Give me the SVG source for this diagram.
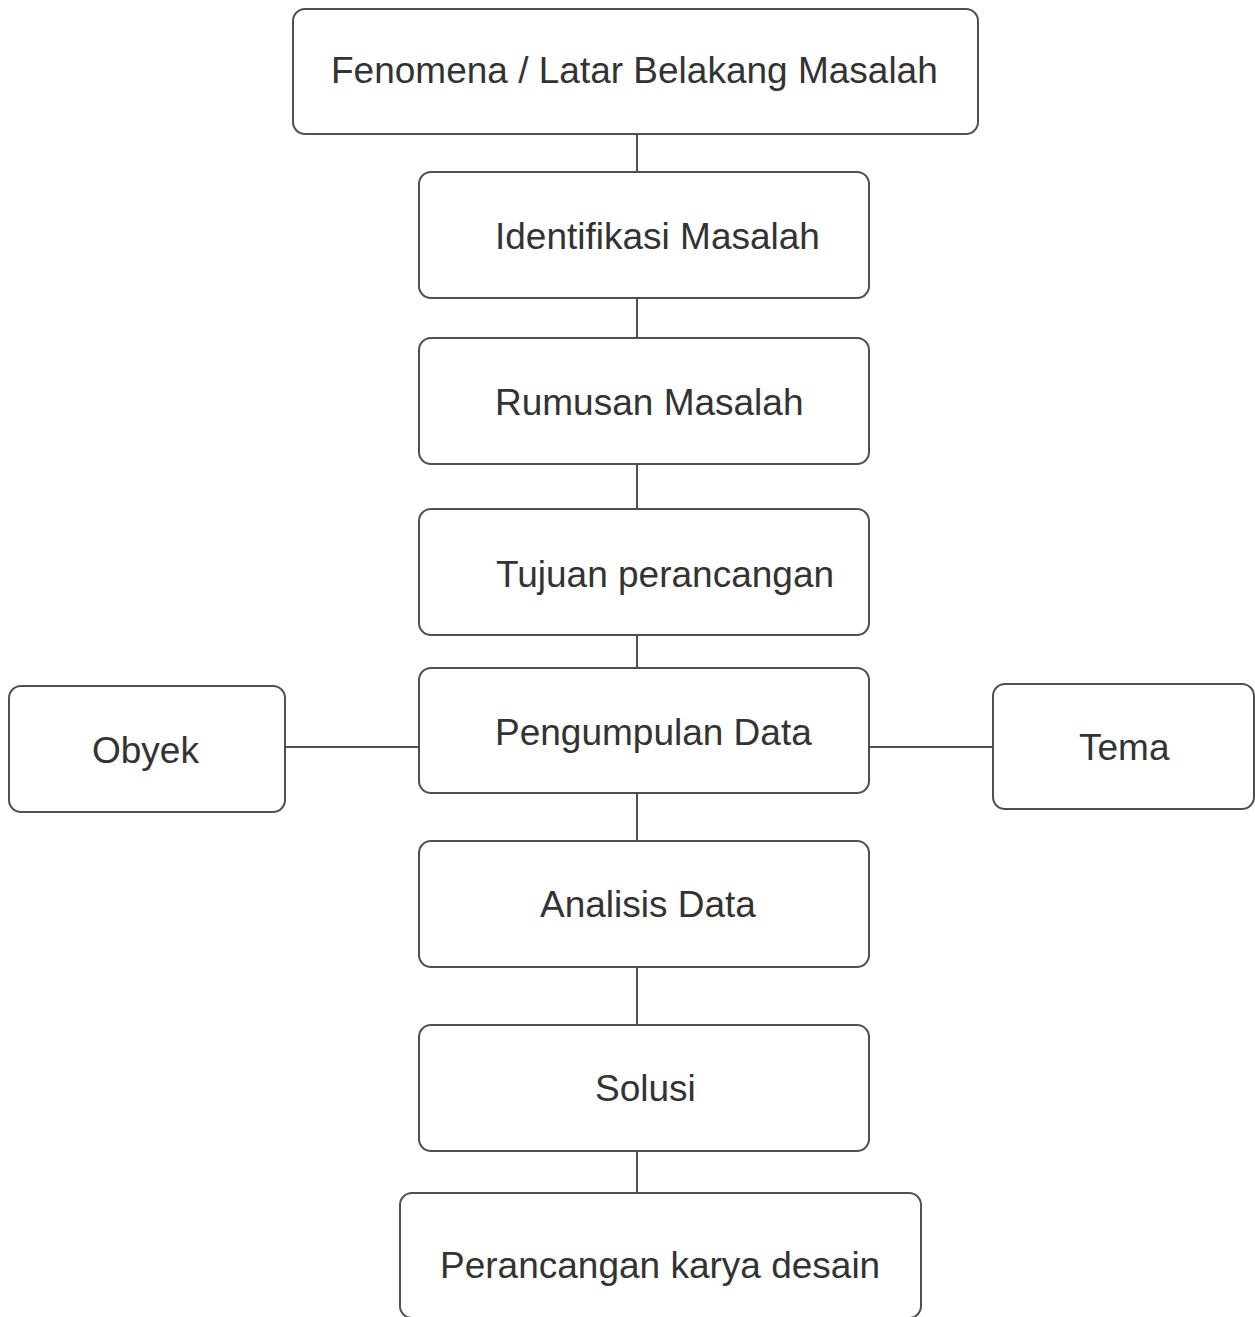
<svg xmlns="http://www.w3.org/2000/svg" width="1255" height="1317" viewBox="0 0 1255 1317">
  <style>
    .box { fill: #ffffff; stroke: #505050; stroke-width: 2; }
    .lbl { font-family: "Liberation Sans", Arial, sans-serif; font-size: 37px; fill: #333333; }
    .conn { stroke: #505050; stroke-width: 2; fill: none; }
  </style>
  <rect width="1255" height="1317" fill="#ffffff"/>
  <g id="connectors">
    <line class="conn" x1="637" y1="134" x2="637" y2="172"/>
    <line class="conn" x1="637" y1="298" x2="637" y2="338"/>
    <line class="conn" x1="637" y1="464" x2="637" y2="509"/>
    <line class="conn" x1="637" y1="635" x2="637" y2="668"/>
    <line class="conn" x1="637" y1="793" x2="637" y2="841"/>
    <line class="conn" x1="637" y1="967" x2="637" y2="1025"/>
    <line class="conn" x1="637" y1="1151" x2="637" y2="1193"/>
    <line class="conn" x1="285" y1="747" x2="419" y2="747"/>
    <line class="conn" x1="869" y1="747" x2="993" y2="747"/>
  </g>
  <g id="fenomena">
    <rect class="box" x="293" y="9" width="685" height="125" rx="12"/>
    <text class="lbl" x="331" y="83">Fenomena / Latar Belakang Masalah</text>
  </g>
  <g id="identifikasi">
    <rect class="box" x="419" y="172" width="450" height="126" rx="12"/>
    <text class="lbl" x="495" y="249">Identifikasi Masalah</text>
  </g>
  <g id="rumusan">
    <rect class="box" x="419" y="338" width="450" height="126" rx="12"/>
    <text class="lbl" x="495" y="415">Rumusan Masalah</text>
  </g>
  <g id="tujuan">
    <rect class="box" x="419" y="509" width="450" height="126" rx="12"/>
    <text class="lbl" x="496" y="587">Tujuan perancangan</text>
  </g>
  <g id="pengumpulan">
    <rect class="box" x="419" y="668" width="450" height="125" rx="12"/>
    <text class="lbl" x="495" y="745">Pengumpulan Data</text>
  </g>
  <g id="obyek">
    <rect class="box" x="9" y="686" width="276" height="126" rx="12"/>
    <text class="lbl" x="92" y="763">Obyek</text>
  </g>
  <g id="tema">
    <rect class="box" x="993" y="684" width="261" height="125" rx="12"/>
    <text class="lbl" x="1079" y="760">Tema</text>
  </g>
  <g id="analisis">
    <rect class="box" x="419" y="841" width="450" height="126" rx="12"/>
    <text class="lbl" x="540" y="917">Analisis Data</text>
  </g>
  <g id="solusi">
    <rect class="box" x="419" y="1025" width="450" height="126" rx="12"/>
    <text class="lbl" x="595" y="1101">Solusi</text>
  </g>
  <g id="perancangan">
    <rect class="box" x="400" y="1193" width="521" height="125" rx="12"/>
    <text class="lbl" x="440" y="1278">Perancangan karya desain</text>
  </g>
</svg>
